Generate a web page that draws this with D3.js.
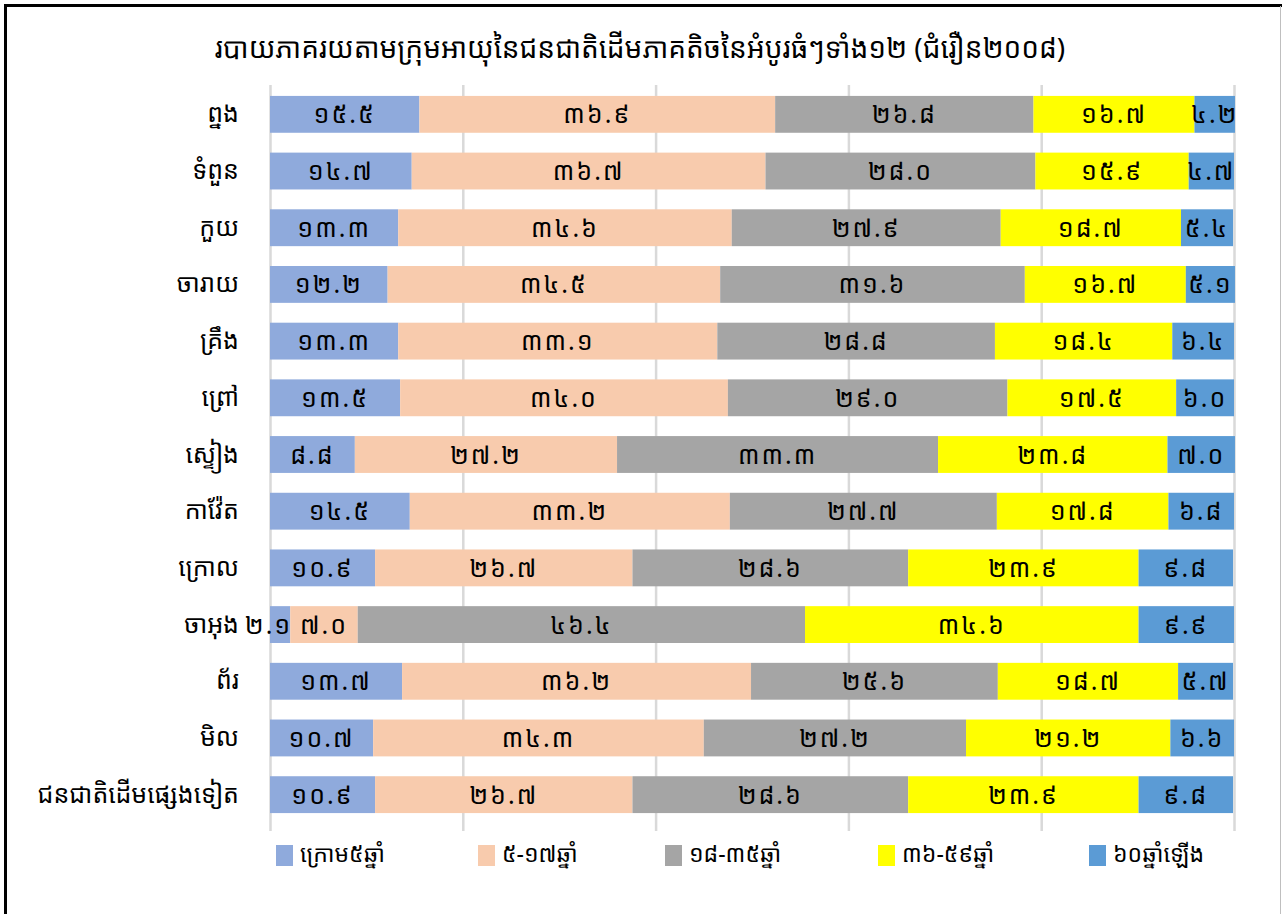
<!DOCTYPE html>
<html>
<head>
<meta charset="utf-8">
<script src="https://cdn.jsdelivr.net/npm/d3@7"></script>
<style>
  html, body { margin: 0; padding: 0; background: #fff; }
  svg text { font-family: "Khmer OS", "Khmer OS System", "Noto Sans Khmer", "Noto Serif Khmer", "Noto Sans", "DejaVu Sans", sans-serif; }
</style>
</head>
<body>
<svg id="chart" width="1282" height="914"></svg>
<script>
const title = "របាយភាគរយតាមក្រុមអាយុនៃជនជាតិដើមភាគតិចនៃអំបូរធំៗទាំង១២ (ជំរឿន២០០៨)";
const categories = ["ព្នង", "ទំពួន", "កួយ", "ចារាយ", "គ្រឹង", "ព្រៅ", "ស្ទៀង", "កាវ៉ែត", "ក្រោល", "ចាអុង", "ព័រ", "មិល", "ជនជាតិដើមផ្សេងទៀត"];
const seriesNames = ["ក្រោម៥ឆ្នាំ", "៥-១៧ឆ្នាំ", "១៨-៣៥ឆ្នាំ", "៣៦-៥៩ឆ្នាំ", "៦០ឆ្នាំឡើង"];
const under5  = [15.5, 14.7, 13.3, 12.2, 13.3, 13.5, 8.8, 14.5, 10.9, 2.1, 13.7, 10.7, 10.9];
const age5_17 = [36.9, 36.7, 34.6, 34.5, 33.1, 34.0, 27.2, 33.2, 26.7, 7.0, 36.2, 34.3, 26.7];
const age18_35 = [26.8, 28.0, 27.9, 31.6, 28.8, 29.0, 33.3, 27.7, 28.6, 46.4, 25.6, 27.2, 28.6];
const age36_59 = [16.7, 15.9, 18.7, 16.7, 18.4, 17.5, 23.8, 17.8, 23.9, 34.6, 18.7, 21.2, 23.9];
const age60up = [4.2, 4.7, 5.4, 5.1, 6.4, 6.0, 7.0, 6.8, 9.8, 9.9, 5.7, 6.6, 9.8];
const xTicks = [0, 20, 40, 60, 80, 100];
const colors = ["#8faadc", "#f8cbad", "#a5a5a5", "#ffff00", "#5b9bd5"];

const seriesValues = [under5, age5_17, age18_35, age36_59, age60up];
const rows = categories.map((c, i) => {
  const r = { cat: c };
  seriesNames.forEach((s, j) => r[s] = seriesValues[j][i]);
  return r;
});

const khmerDigits = "០១២៣៤៥៦៧៨៩";
const toKhmer = s => String(s).replace(/[0-9]/g, d => khmerDigits[+d]);
const fmt = v => toKhmer(v.toFixed(1));

const svg = d3.select("#chart");
const W = 1282, H = 914;

// chart frame
svg.append("rect").attr("x", 0).attr("y", 0).attr("width", W).attr("height", H).attr("fill", "#fff");
svg.append("line").attr("x1", 5).attr("x2", W).attr("y1", 5.5).attr("y2", 5.5).attr("stroke", "#000").attr("stroke-width", 3);
svg.append("line").attr("x1", 5.5).attr("x2", 5.5).attr("y1", 4).attr("y2", H).attr("stroke", "#000").attr("stroke-width", 3);
svg.append("line").attr("x1", 1280.5).attr("x2", 1280.5).attr("y1", 6).attr("y2", H).attr("stroke", "#bfbfbf").attr("stroke-width", 1);

const margin = { left: 270, right: 48, top: 86, bottom: 91 };
const x = d3.scaleLinear().domain([0, 100]).range([margin.left, W - margin.right]);
const y = d3.scaleBand().domain(categories).range([margin.top, H - margin.bottom]).paddingInner(0.35).paddingOuter(0.175);

// gridlines
const grid = svg.append("g").attr("transform", `translate(0,${H - margin.bottom})`)
  .call(d3.axisBottom(x).tickValues(xTicks).tickSize(-(H - margin.bottom - margin.top + 1)).tickFormat(""));
grid.select(".domain").remove();
grid.selectAll(".tick line").attr("stroke", "#d9d9d9").attr("stroke-width", 2.5).attr("y2", 8).attr("y1", -(H - margin.bottom - margin.top + 1));

// title
svg.append("text").attr("x", 640).attr("y", 48).attr("dy", "0.36em").attr("text-anchor", "middle")
  .attr("font-size", 28).attr("fill", "#000").text(title);

// y labels
const yAxis = svg.append("g").attr("transform", `translate(${margin.left},0)`)
  .call(d3.axisLeft(y).tickSize(0).tickPadding(31));
yAxis.select(".domain").remove();
yAxis.selectAll("text").attr("font-size", 25).attr("fill", "#000").style("font-family", null);

// stacks
const stack = d3.stack().keys(seriesNames);
const stacked = stack(rows);
const layers = svg.append("g").selectAll("g").data(stacked).join("g").attr("fill", (d, i) => colors[i]);
layers.selectAll("rect").data(d => d).join("rect")
  .attr("x", d => x(d[0])).attr("width", d => x(d[1]) - x(d[0]))
  .attr("y", d => y(d.data.cat)).attr("height", y.bandwidth());

// labels
const lbl = svg.append("g").selectAll("g").data(stacked).join("g");
lbl.selectAll("text").data(d => d.map(p => ({ p, key: d.key }))).join("text")
  .attr("x", d => {
    const w = x(d.p[1]) - x(d.p[0]);
    return w < 30 ? x(d.p[1]) + 2 : (x(d.p[0]) + x(d.p[1])) / 2;
  })
  .attr("text-anchor", d => (x(d.p[1]) - x(d.p[0])) < 30 ? "end" : "middle")
  .attr("y", d => y(d.p.data.cat) + y.bandwidth() / 2)
  .attr("dy", "0.36em")
  .attr("font-size", 25).attr("letter-spacing", 2).attr("fill", "#000")
  .text(d => fmt(d.p[1] - d.p[0]));

// legend
const legendX = [276, 478, 665, 878, 1089];
const leg = svg.append("g").selectAll("g").data(seriesNames).join("g")
  .attr("transform", (d, i) => `translate(${legendX[i]},845)`);
leg.append("rect").attr("width", 17).attr("height", 21).attr("fill", (d, i) => colors[i]);
leg.append("text").attr("x", 24).attr("y", 9).attr("dy", "0.36em").attr("font-size", 23).attr("fill", "#000").text(d => d);
</script>
</body>
</html>
